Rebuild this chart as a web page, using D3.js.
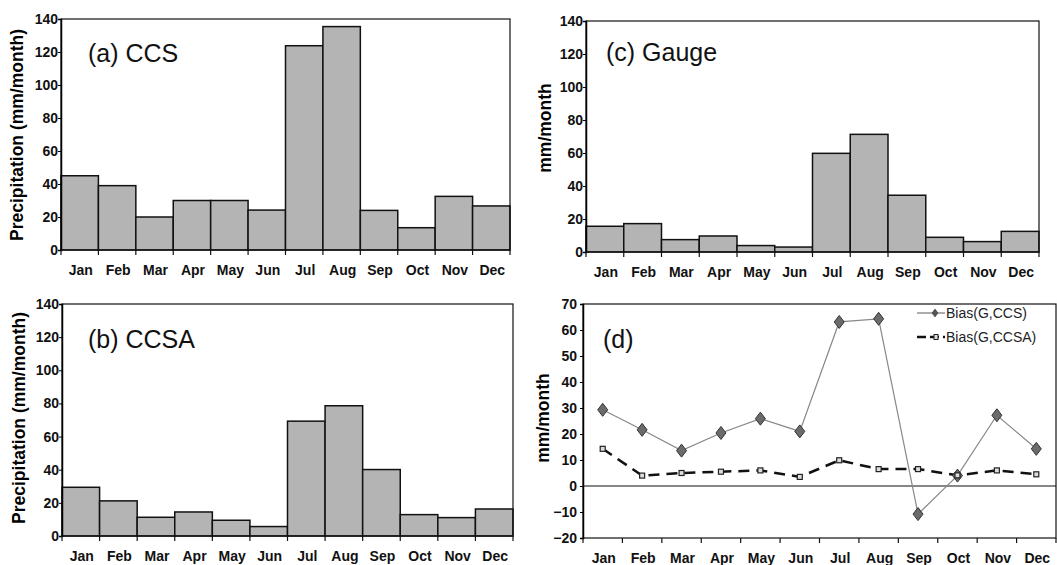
<!DOCTYPE html>
<html lang="en">
  <head>
    <meta charset="UTF-8" />
    <title>Monthly precipitation</title>
    <script src="https://d3js.org/d3.v7.min.js"></script>
    <style>
      body {
        margin: 0;
        background: white;
      }
      text {
        font-family: "Liberation Sans", Arial, sans-serif;
      }
      .tick text {
        font-weight: bold;
        font-size: 14px;
        fill: #111;
      }
      .ytitle {
        font-weight: bold;
        font-size: 17.5px;
      }
      .ptitle {
        font-size: 25px;
        fill: #111;
      }
    </style>
  </head>
  <body>
    <div id="container"></div>
    <script>
      const months = ["Jan", "Feb", "Mar", "Apr", "May", "Jun", "Jul", "Aug", "Sep", "Oct", "Nov", "Dec"];
      const ccs = [45, 39, 20, 30, 30, 24.2, 123.8, 135.4, 24, 13.5, 32.5, 26.7];
      const ccsa = [29.4, 21.2, 11.3, 14.5, 9.5, 5.7, 69.3, 78.6, 40.1, 12.9, 11.1, 16.3];
      const gauge = [15.6, 17.2, 7.5, 9.7, 3.9, 3, 59.8, 71.3, 34.4, 8.9, 6.3, 12.5];
      const biasCCS = [29.3, 21.6, 13.6, 20.4, 25.9, 21, 63.1, 64.3, -10.8, 4, 27.2, 14.3];
      const biasCCSA = [14.3, 4, 5, 5.5, 6, 3.5, 9.9, 6.5, 6.5, 4.1, 6, 4.5];
      const barTicks = [0, 20, 40, 60, 80, 100, 120, 140];
      const biasTicks = [-20, -10, 0, 10, 20, 30, 40, 50, 60, 70];
      const legendNames = ["Bias(G,CCS)", "Bias(G,CCSA)"];

      const width = 1057;
      const height = 565;
      const svg = d3
        .select("#container")
        .append("svg")
        .attr("width", width)
        .attr("height", height);

      // x band scale + frame + axes shared by all four panels
      function panel(box, yDomain, yTicks, ytitle, label) {
        const g = svg.append("g");
        const x = d3.scaleBand().domain(months).range([box.x0, box.x1]).padding(0);
        const y = d3.scaleLinear().domain(yDomain).range([box.y1, box.y0]);

        g.append("rect")
          .attr("x", box.x0)
          .attr("y", box.y0)
          .attr("width", box.x1 - box.x0)
          .attr("height", box.y1 - box.y0)
          .attr("fill", "none")
          .attr("stroke", "#111")
          .attr("stroke-width", 1.2);

        const yAxis = g
          .append("g")
          .attr("transform", "translate(" + box.x0 + ",0)")
          .call(d3.axisLeft(y).tickValues(yTicks).tickSize(3).tickPadding(0));
        yAxis.select(".domain").attr("stroke-width", 1.5);

        // x ticks at band boundaries, labels at band centres
        const xg = g.append("g");
        xg.selectAll("line")
          .data(months.concat(["end"]))
          .enter()
          .append("line")
          .attr("x1", (d, i) => box.x0 + i * x.bandwidth())
          .attr("x2", (d, i) => box.x0 + i * x.bandwidth())
          .attr("y1", box.y1)
          .attr("y2", box.y1 + 5)
          .attr("stroke", "#111")
          .attr("stroke-width", 1.2);
        xg.selectAll("text")
          .data(months)
          .enter()
          .append("text")
          .attr("x", (d) => x(d) + x.bandwidth() / 2 + 1)
          .attr("y", box.y1 + 25)
          .attr("text-anchor", "middle")
          .style("font-weight", "bold")
          .style("font-size", "14px")
          .attr("fill", "#111")
          .text((d) => d);

        g.append("text")
          .attr("class", "ytitle")
          .attr("transform", "translate(" + box.tx + "," + box.ty + ") rotate(-90)")
          .attr("text-anchor", "middle")
          .text(ytitle);

        g.append("text")
          .attr("class", "ptitle")
          .attr("x", box.lx)
          .attr("y", box.ly)
          .text(label);

        return { g: g, x: x, y: y };
      }

      function bars(p, values) {
        p.g.insert("g", "rect")
          .selectAll("rect")
          .data(values)
          .enter()
          .append("rect")
          .attr("x", (d, i) => p.x(months[i]))
          .attr("y", (d) => p.y(d))
          .attr("width", p.x.bandwidth())
          .attr("height", (d) => p.y(0) - p.y(d))
          .attr("fill", "#b4b4b4")
          .attr("stroke", "#111")
          .attr("stroke-width", 1.5);
      }

      const pa = panel(
        { x0: 61, x1: 510, y0: 19, y1: 250, tx: 23, ty: 135, lx: 88, ly: 62 },
        [0, 140], barTicks, "Precipitation (mm/month)", "(a) CCS"
      );
      bars(pa, ccs);

      const pb = panel(
        { x0: 62, x1: 513, y0: 304, y1: 536, tx: 25, ty: 418, lx: 88, ly: 348 },
        [0, 140], barTicks, "Precipitation (mm/month)", "(b) CCSA"
      );
      bars(pb, ccsa);

      const pc = panel(
        { x0: 586, x1: 1039, y0: 21, y1: 252, tx: 551, ty: 128, lx: 606, ly: 61 },
        [0, 140], barTicks, "mm/month", "(c) Gauge"
      );
      bars(pc, gauge);

      const pd = panel(
        { x0: 583, x1: 1056, y0: 304, y1: 538, tx: 549, ty: 418, lx: 603, ly: 348 },
        [-20, 70], biasTicks, "mm/month", "(d)"
      );
      pd.g.selectAll(".tick text").attr("dx", -3);

      // zero line
      pd.g.append("line")
        .attr("x1", 583)
        .attr("x2", 1056)
        .attr("y1", pd.y(0))
        .attr("y2", pd.y(0))
        .attr("stroke", "#111")
        .attr("stroke-width", 1.2);

      const cx = (d, i) => pd.x(months[i]) + pd.x.bandwidth() / 2;
      const line = d3.line().x(cx).y((d) => pd.y(d));

      pd.g.append("path")
        .datum(biasCCSA)
        .attr("d", line)
        .attr("fill", "none")
        .attr("stroke", "#111")
        .attr("stroke-width", 2.5)
        .attr("stroke-dasharray", "11,7");

      pd.g.append("path")
        .datum(biasCCS)
        .attr("d", line)
        .attr("fill", "none")
        .attr("stroke", "#888")
        .attr("stroke-width", 1.2);

      const diamond = "M0,-6.5L5,0L0,6.5L-5,0Z";

      pd.g.selectAll(".dia")
        .data(biasCCS)
        .enter()
        .append("path")
        .attr("class", "dia")
        .attr("transform", (d, i) => "translate(" + cx(d, i) + "," + pd.y(d) + ")")
        .attr("d", diamond)
        .attr("fill", "#6b6b6b")
        .attr("stroke", "#333")
        .attr("stroke-width", 1);

      pd.g.selectAll(".sq")
        .data(biasCCSA)
        .enter()
        .append("rect")
        .attr("class", "sq")
        .attr("x", (d, i) => cx(d, i) - 2.5)
        .attr("y", (d) => pd.y(d) - 2.5)
        .attr("width", 5)
        .attr("height", 5)
        .attr("fill", "#ddd")
        .attr("stroke", "#222")
        .attr("stroke-width", 1.2);

      // legend
      const lg = pd.g.append("g");
      lg.append("line")
        .attr("x1", 917).attr("x2", 945).attr("y1", 313).attr("y2", 313)
        .attr("stroke", "#777").attr("stroke-width", 1.2);
      lg.append("path")
        .attr("transform", "translate(935,313) scale(0.6)")
        .attr("d", diamond)
        .attr("fill", "#555")
        .attr("stroke", "#333");
      lg.append("line")
        .attr("x1", 917).attr("x2", 945).attr("y1", 337).attr("y2", 337)
        .attr("stroke", "#111").attr("stroke-width", 2.5)
        .attr("stroke-dasharray", "9,4");
      lg.append("rect")
        .attr("x", 934).attr("y", 334.5).attr("width", 4).attr("height", 5)
        .attr("fill", "#ddd").attr("stroke", "#222");
      lg.selectAll("text")
        .data(legendNames)
        .enter()
        .append("text")
        .attr("x", 946)
        .attr("y", (d, i) => 318 + i * 24)
        .style("font-size", "14px")
        .attr("fill", "#222")
        .text((d) => d);
    </script>
  </body>
</html>
